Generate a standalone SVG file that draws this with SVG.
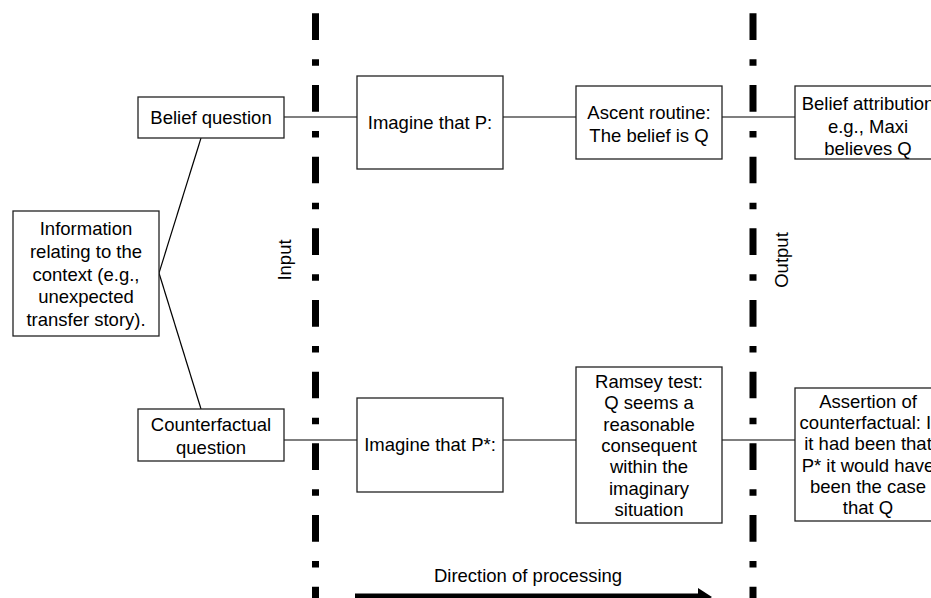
<svg xmlns="http://www.w3.org/2000/svg" width="931" height="598" viewBox="0 0 931 598">
<defs>
<style>
.box{fill:#fff;stroke:#222;stroke-width:1.3}
.t{font-family:"Liberation Sans",Arial,sans-serif;font-size:18.5px;fill:#000;text-anchor:middle}
.c{stroke:#000;stroke-width:1.2;fill:none}
.div{stroke:#000;stroke-width:7;stroke-dasharray:26.7 19.3 6.5 19.17;fill:none}
</style>
<marker id="ah" markerWidth="4" markerHeight="4" refX="0" refY="2" orient="auto" markerUnits="strokeWidth">
<path d="M0,0 L2,2 L0,4 Z" fill="#000"/>
</marker>
</defs>
<rect width="931" height="598" fill="#fff"/>

<g id="dividers">
<line class="div" x1="315.5" y1="13.3" x2="315.5" y2="598"/>
<line class="div" x1="753" y1="13.3" x2="753" y2="598"/>
<text class="t" transform="translate(291,260) rotate(-90)">Input</text>
<text class="t" transform="translate(788,260) rotate(-90)">Output</text>
</g>

<g id="connectors">
<line class="c" x1="284" y1="117" x2="357" y2="117"/>
<line class="c" x1="503" y1="117" x2="576" y2="117"/>
<line class="c" x1="722" y1="117" x2="795" y2="117"/>
<line class="c" x1="284" y1="440" x2="357" y2="440"/>
<line class="c" x1="503" y1="440" x2="576" y2="440"/>
<line class="c" x1="722" y1="440" x2="795" y2="440"/>
<line class="c" x1="159" y1="273" x2="201" y2="138"/>
<line class="c" x1="159" y1="273" x2="201" y2="409"/>
</g>

<g id="info">
<rect class="box" x="13" y="211" width="146" height="125"/>
<text class="t" x="86" y="235">Information</text>
<text class="t" x="86" y="257.8">relating to the</text>
<text class="t" x="86" y="280.5">context (e.g.,</text>
<text class="t" x="86" y="303.3">unexpected</text>
<text class="t" x="86" y="326">transfer story).</text>
</g>

<g id="belief-question">
<rect class="box" x="138" y="97" width="146" height="41"/>
<text class="t" x="211" y="123.5">Belief question</text>
</g>

<g id="counterfactual-question">
<rect class="box" x="138" y="409" width="146" height="52"/>
<text class="t" x="211" y="431">Counterfactual</text>
<text class="t" x="211" y="453.5">question</text>
</g>

<g id="imagine-p">
<rect class="box" x="357" y="76" width="146" height="93"/>
<text class="t" x="430" y="128.5">Imagine that P:</text>
</g>

<g id="imagine-pstar">
<rect class="box" x="357" y="398" width="146" height="94"/>
<text class="t" x="430" y="451">Imagine that P*:</text>
</g>

<g id="ascent">
<rect class="box" x="576" y="86" width="146" height="73"/>
<text class="t" x="649" y="119">Ascent routine:</text>
<text class="t" x="649" y="142">The belief is Q</text>
</g>

<g id="ramsey">
<rect class="box" x="576" y="367" width="146" height="156"/>
<text class="t" x="649" y="388">Ramsey test:</text>
<text class="t" x="649" y="409.3">Q seems a</text>
<text class="t" x="649" y="430.7">reasonable</text>
<text class="t" x="649" y="452">consequent</text>
<text class="t" x="649" y="473.3">within the</text>
<text class="t" x="649" y="494.7">imaginary</text>
<text class="t" x="649" y="516">situation</text>
</g>

<g id="belief-attribution">
<rect class="box" x="795" y="86" width="146" height="73"/>
<text class="t" x="868" y="110">Belief attribution</text>
<text class="t" x="868" y="132.5">e.g., Maxi</text>
<text class="t" x="868" y="155">believes Q</text>
</g>

<g id="assertion">
<rect class="box" x="795" y="388" width="146" height="133"/>
<text class="t" x="868" y="408">Assertion of</text>
<text class="t" x="868" y="429.2">counterfactual: If</text>
<text class="t" x="868" y="450.4">it had been that</text>
<text class="t" x="868" y="471.6">P* it would have</text>
<text class="t" x="868" y="492.8">been the case</text>
<text class="t" x="868" y="514">that Q</text>
</g>

<g id="direction">
<text class="t" x="528" y="582">Direction of processing</text>
<line x1="355" y1="597" x2="700" y2="597" stroke="#000" stroke-width="7"/>
<path d="M698,588 L712,597 L698,606 Z" fill="#000"/>
</g>
</svg>
